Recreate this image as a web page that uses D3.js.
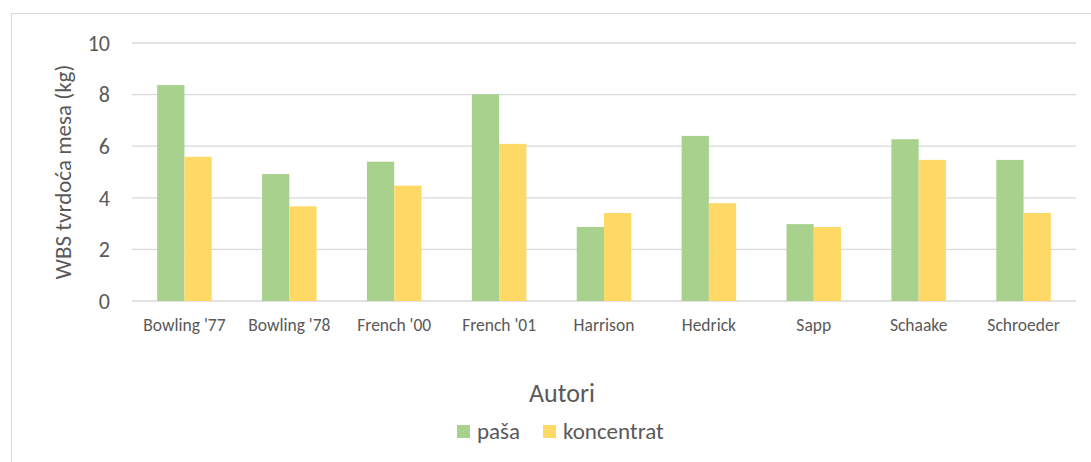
<!DOCTYPE html>
<html>
<head>
<meta charset="utf-8">
<script src="https://cdn.jsdelivr.net/npm/d3@7"></script>
<style>
  body { margin: 0; background: #fff; }
  svg text { font-family: Carlito, Lato, "Noto Sans", sans-serif; fill: #595959; }
</style>
</head>
<body>
<div id="chart"></div>
<script>
const authors = ["Bowling '77", "Bowling '78", "French '00", "French '01", "Harrison", "Hedrick", "Sapp", "Schaake", "Schroeder"]
const pasa = [8.37, 4.92, 5.40, 8.01, 2.87, 6.40, 2.98, 6.27, 5.47]
const koncentrat = [5.59, 3.67, 4.47, 6.09, 3.41, 3.79, 2.87, 5.47, 3.41]
const yTicks = [0, 2, 4, 6, 8, 10]
const seriesNames = ["paša", "koncentrat"]
const colors = ["#A9D18E", "#FFD966"]

const width = 1091, height = 462
const margin = {top: 43, right: 15, bottom: 161, left: 132}

const svg = d3.select("#chart").append("svg")
    .attr("width", width)
    .attr("height", height)

// chart border
svg.append("rect")
    .attr("x", 11.5).attr("y", 13.5)
    .attr("width", 1090).attr("height", 460)
    .attr("fill", "none")
    .attr("stroke", "#D9D9D9")

const x = d3.scaleBand().domain(authors).range([margin.left, width - margin.right])
const y = d3.scaleLinear().domain([0, 10]).range([height - margin.bottom, margin.top])
const groupWidth = x.bandwidth() * 0.52
const xInner = d3.scaleBand().domain(seriesNames).range([0, groupWidth])

// gridlines
svg.append("g")
    .selectAll("line")
    .data(yTicks)
    .enter().append("line")
    .attr("x1", margin.left).attr("x2", width - margin.right)
    .attr("y1", d => y(d)).attr("y2", d => y(d))
    .attr("stroke", "#D9D9D9")
    .attr("stroke-width", 1.3)

// y tick labels
svg.append("g")
    .selectAll("text")
    .data(yTicks)
    .enter().append("text")
    .attr("x", 110)
    .attr("y", d => y(d))
    .attr("dy", "0.35em")
    .attr("text-anchor", "end")
    .style("font-size", "22px")
    .text(d => d)

const rows = authors.map((a, i) => ({author: a, values: [pasa[i], koncentrat[i]]}))

const groups = svg.append("g")
    .selectAll("g")
    .data(rows)
    .enter().append("g")
    .attr("transform", d => "translate(" + (x(d.author) + (x.bandwidth() - groupWidth) / 2) + ",0)")

groups.selectAll("rect")
    .data(d => d.values.map((v, i) => ({name: seriesNames[i], value: v, i: i})))
    .enter().append("rect")
    .attr("x", d => xInner(d.name))
    .attr("width", xInner.bandwidth())
    .attr("y", d => y(d.value))
    .attr("height", d => y(0) - y(d.value))
    .attr("fill", d => colors[d.i])

// category labels
svg.append("g")
    .selectAll("text")
    .data(authors)
    .enter().append("text")
    .attr("x", d => x(d) + x.bandwidth() / 2)
    .attr("y", 331)
    .attr("text-anchor", "middle")
    .style("font-size", "17.5px")
    .text(d => d)

// axis titles
svg.append("text")
    .attr("transform", "translate(71," + ((y(0) + y(10)) / 2) + ") rotate(-90)")
    .attr("text-anchor", "middle")
    .style("font-size", "23px")
    .text("WBS tvrdoća mesa (kg)")

svg.append("text")
    .attr("x", 562).attr("y", 402)
    .attr("text-anchor", "middle")
    .style("font-size", "26px")
    .text("Autori")

// legend
const legendX = [457, 543]
const legend = svg.append("g")
    .selectAll("g")
    .data(seriesNames)
    .enter().append("g")
    .attr("transform", (d, i) => "translate(" + legendX[i] + ",425)")
legend.append("rect")
    .attr("width", 13).attr("height", 13)
    .attr("fill", (d, i) => colors[i])
legend.append("text")
    .attr("x", 20).attr("y", 14)
    .style("font-size", "23px")
    .text(d => d)
</script>
</body>
</html>
